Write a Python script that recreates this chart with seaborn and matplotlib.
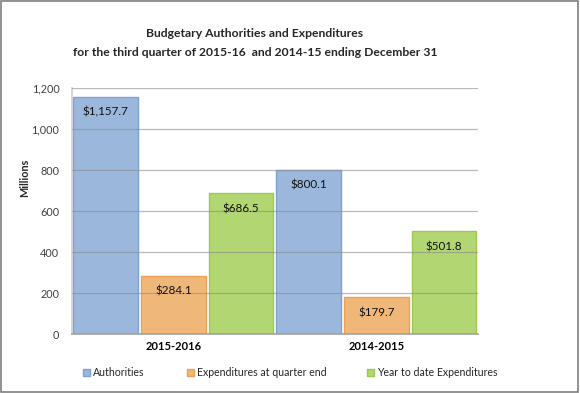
import matplotlib
matplotlib.use("Agg")
import matplotlib.pyplot as plt
import seaborn as sns
import pandas as pd
from matplotlib.patches import Rectangle

categories = ["2015-2016", "2014-2015"]
series = ["Authorities", "Expenditures at quarter end", "Year to date Expenditures"]
authorities = [1157.7, 800.1]
quarter_exp = [284.1, 179.7]
ytd_exp = [686.5, 501.8]
yticks = [0, 200, 400, 600, 800, 1000, 1200]

rows = []
for i, c in enumerate(categories):
    rows.append((c, series[0], authorities[i]))
    rows.append((c, series[1], quarter_exp[i]))
    rows.append((c, series[2], ytd_exp[i]))
df = pd.DataFrame(rows, columns=["Year", "Series", "Value"])

sns.set_theme(style="white")
plt.rcParams["font.family"] = ["Lato", "DejaVu Sans"]

face = ["#9BB7DB", "#F0B878", "#B2D671"]
edge = ["#7FA3D0", "#EAA25A", "#9CC853"]

W, H = 580, 393
fig = plt.figure(figsize=(5.8, 3.93), dpi=100)
ax = fig.add_axes([0.124, 0.150, 0.700, 0.626])

sns.barplot(data=df, x="Year", y="Value", hue="Series", order=categories,
            hue_order=series, palette=face, width=1.0, ax=ax, legend=False,
            saturation=1.0)

for k, cont in enumerate(ax.containers):
    for p in cont.patches:
        p.set_edgecolor(edge[k])
        p.set_linewidth(1.0)
        p.set_zorder(2)
        x0, w = p.get_x(), p.get_width()
        p.set_x(x0 + 0.007)
        p.set_width(w - 0.014)
    labels = ["$" + format(v, ",.1f") for v in cont.datavalues]
    ax.bar_label(cont, labels=labels, label_type="edge", padding=-15,
                 fontsize=8.4, color="#111111", zorder=5)

ax.set_ylim(0, 1200)
ax.set_xlim(-0.5, 1.5)
ax.set_yticks(yticks)
ax.set_yticklabels([format(v, ",") for v in yticks], fontsize=7.8, color="#404040")
ax.set_axisbelow(False)
ax.yaxis.grid(True, color="#8C8C8C", linewidth=0.9, alpha=0.6, zorder=3)
ax.tick_params(axis="y", length=0, pad=9)
ax.tick_params(axis="x", length=0, pad=5)
ax.set_xticks([0, 1])
ax.set_xticklabels(categories, fontsize=8, fontweight="bold", color="black")
ax.set_xlabel("")
ax.set_ylabel("Millions", fontsize=7.8, fontweight="bold")
ax.yaxis.set_label_coords(-0.103, 0.634)
for s in ["top", "right"]:
    ax.spines[s].set_visible(False)
ax.spines["left"].set_color("#D0D0D0")
ax.spines["bottom"].set_color("#A6A6A6")

fig.text(255 / W, 0.890, "Budgetary Authorities and Expenditures\nfor the third quarter of 2015-16  and 2014-15 ending December 31",
         ha="center", va="center", fontsize=8.7, fontweight="bold", linespacing=1.85)

fs_leg = 7.6
hx = [83, 187, 367]
for i in range(3):
    h = Rectangle((0, 0), 1, 1, facecolor=face[i], edgecolor=edge[i])
    leg = fig.legend([h], [series[i]], loc="center left",
                     bbox_to_anchor=(hx[i] / W, 1 - 373 / H), frameon=False,
                     fontsize=fs_leg, handlelength=5.2 / fs_leg, handleheight=5.2 / fs_leg,
                     handletextpad=0.3, borderaxespad=0, borderpad=0)

fig.patches.append(Rectangle((0.002, 0.003), 0.995, 0.994, transform=fig.transFigure,
                             fill=False, edgecolor="#7F7F7F", linewidth=1.2))
fig.savefig("out.png", dpi=100)
